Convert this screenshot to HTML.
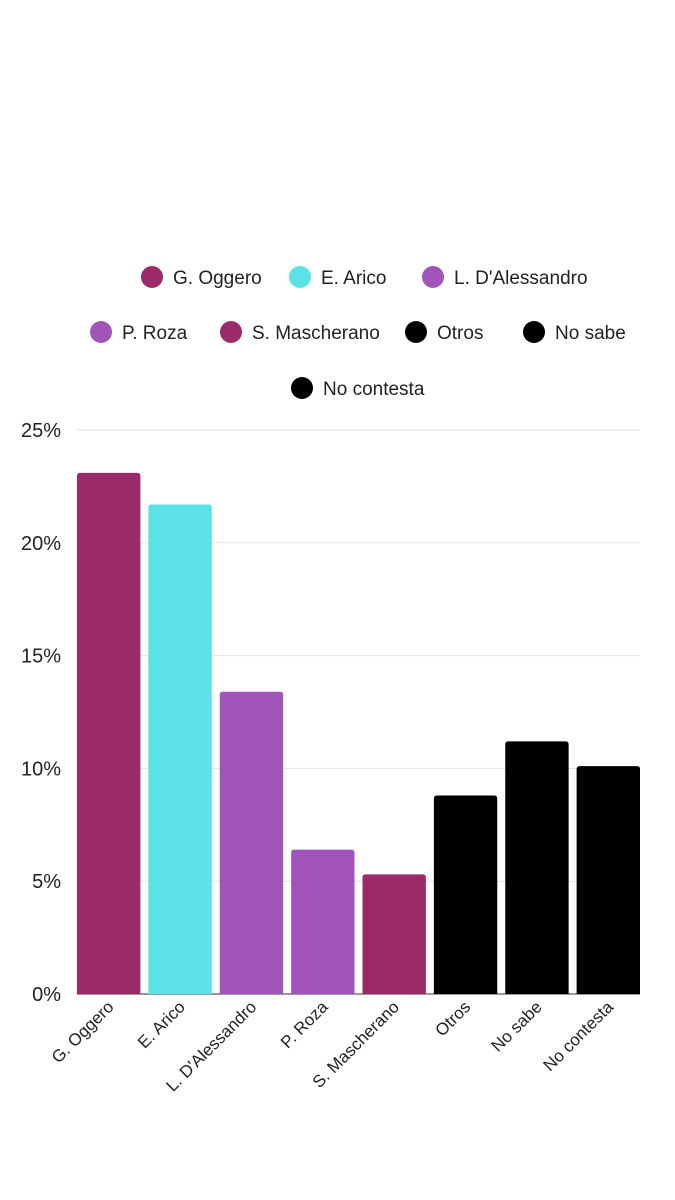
<!DOCTYPE html>
<html><head><meta charset="utf-8"><style>
html,body{margin:0;padding:0;background:#fff;width:675px;height:1200px;overflow:hidden}
svg text{font-family:"Liberation Sans Narrow","Liberation Sans",sans-serif;fill:#222}
</style></head><body>
<svg id="chart" width="675" height="1200" viewBox="0 0 675 1200" xmlns="http://www.w3.org/2000/svg">
<g id="legend"></g>
<g id="grid"></g>
<g id="yaxis"></g>
<g id="bars"></g>
<g id="xaxis"></g>
</svg>
<script>
const categories=["G. Oggero","E. Arico","L. D'Alessandro","P. Roza","S. Mascherano","Otros","No sabe","No contesta"];
const values=[23.1,21.7,13.4,6.4,5.3,8.8,11.2,10.1];
const colors=["#9b2a6a","#5ce1e6","#a155b9","#a155b9","#9b2a6a","#000000","#000000","#000000"];
const yTicks=[0,5,10,15,20,25];
const yTickLabels=["0%","5%","10%","15%","20%","25%"];
const NS="http://www.w3.org/2000/svg";
const x0=77,x1=640,yBase=994,yTop=430,yMax=25;
const step=(x1-x0+8)/categories.length, bw=step-8;
function y(v){return yBase-(v/yMax)*(yBase-yTop);}
function x(i){return x0+i*step;}
function mk(t,a,p){const e=document.createElementNS(NS,t);for(const k in a)e.setAttribute(k,a[k]);p.appendChild(e);return e;}
const grid=document.getElementById('grid'),ya=document.getElementById('yaxis'),bars=document.getElementById('bars'),xa=document.getElementById('xaxis'),lg=document.getElementById('legend');
yTicks.forEach((t,i)=>{
 const l=mk('line',{x1:x0,x2:x1,y1:y(t),y2:y(t),stroke:t===0?'#333':'#e2e2e2','stroke-width':1},grid);
 
 
 const tx=mk('text',{x:61,y:y(t)+7,'text-anchor':'end','font-size':20},ya);
 tx.textContent=yTickLabels[i];
 
 
});
categories.forEach((c,i)=>{
 const top=y(values[i]),h=yBase-top,r=3;
 const p=mk('path',{d:`M${x(i)},${yBase}V${top+r}Q${x(i)},${top} ${x(i)+r},${top}H${x(i)+bw-r}Q${x(i)+bw},${top} ${x(i)+bw},${top+r}V${yBase}Z`,fill:colors[i]},bars);
 
 
 const cx=x(i)+bw/2+6, cy=1008;
 const t=mk('text',{x:cx,y:cy,'text-anchor':'end','font-size':17,transform:`rotate(-45 ${cx} ${cy})`},xa);
 t.textContent=c;
 
 
});
const legendPos=[[152,277],[300,277],[433,277],[101,332],[231,332],[416,332],[534,332],[302,388]];
categories.forEach((c,i)=>{
 const g=mk('g',{},lg);
 
 
 const [lx,ly]=legendPos[i];
 mk('circle',{cx:lx,cy:ly,r:11,fill:colors[i]},g);
 const t=mk('text',{x:lx+21,y:ly+7,'font-size':19},g);
 t.textContent=c;
});
</script>
</body></html>
